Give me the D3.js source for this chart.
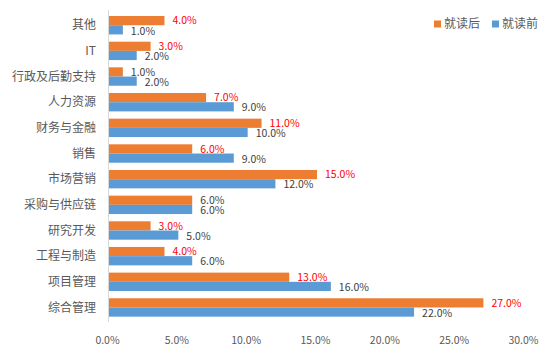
<!DOCTYPE html>
<html><head><meta charset="utf-8">
<script src="https://cdn.jsdelivr.net/npm/d3@7"></script>
<style>body{margin:0;background:#fff}svg{display:block}</style>
</head><body>
<svg id="c" width="557" height="357"></svg>
<script>
const categories = ["其他","IT","行政及后勤支持","人力资源","财务与金融","销售","市场营销","采购与供应链","研究开发","工程与制造","项目管理","综合管理"];
const after = [4,3,1,7,11,6,15,6,3,4,13,27];
const before = [1,2,2,9,10,9,12,6,5,6,16,22];
const afterHighlight = [true,true,false,true,true,true,true,false,true,true,true,true];
const seriesNames = ["就读后","就读前"];
const xTicks = [0,5,10,15,20,25,30];

const font = "'Noto Sans CJK SC','Microsoft YaHei',sans-serif";
const orange = "#ED7D31", blue = "#5B9BD5";
const svg = d3.select("#c");
const x = d3.scaleLinear().domain([0,30]).range([109, 525]);
const y = d3.scaleBand().domain(categories).range([12.4, 320.3]).paddingInner(0.283).paddingOuter(0.1415);
const bh = y.bandwidth()/2;

// axis line
svg.append("line").attr("x1",108.5).attr("x2",108.5).attr("y1",10).attr("y2",322)
  .attr("stroke","#d9d9d9").attr("stroke-width",1);

const g = svg.append("g");
categories.forEach((c,i)=>{
  const y0 = y(c);
  g.append("rect").attr("x",x(0)).attr("y",y0).attr("width",x(after[i])-x(0)).attr("height",bh).attr("fill",orange);
  g.append("rect").attr("x",x(0)).attr("y",y0+bh).attr("width",x(before[i])-x(0)).attr("height",bh).attr("fill",blue);
  g.append("text").attr("x",x(after[i])+8).attr("y",y0+bh/2).attr("dy","0.35em")
    .attr("font-family",font).attr("font-size",10.5).attr("fill",afterHighlight[i]?"#FF0000":"#404040")
    .text(after[i].toFixed(1)+"%");
  g.append("text").attr("x",x(before[i])+8).attr("y",y0+bh*1.5+1).attr("dy","0.35em")
    .attr("font-family",font).attr("font-size",10.5).attr("fill","#404040")
    .text(before[i].toFixed(1)+"%");
  g.append("text").attr("x",96).attr("y",y0+bh).attr("dy","0.35em").attr("text-anchor","end")
    .attr("font-family",font).attr("font-size",12).attr("fill","#595959").text(c);
});

// x axis ticks
const ax = svg.append("g").attr("transform","translate(-2,0)")
  .call(d3.axisBottom(x).tickValues(xTicks).tickFormat(d=>d.toFixed(1)+"%").tickSize(0))
  .attr("transform","translate(-2,334)");
ax.select(".domain").remove();
ax.selectAll("text").attr("font-family",font).attr("font-size",10.5).attr("fill","#595959").attr("dy","0.35em").attr("y",6);

// legend
const leg = svg.append("g");
const lx = [434, 492];
seriesNames.forEach((n,i)=>{
  leg.append("rect").attr("x",lx[i]).attr("y",20.5).attr("width",7).attr("height",7).attr("fill",i===0?orange:blue);
  leg.append("text").attr("x",lx[i]+10).attr("y",24).attr("dy","0.35em").attr("font-family",font)
    .attr("font-size",12).attr("fill","#595959").text(n);
});
</script>
</body></html>
